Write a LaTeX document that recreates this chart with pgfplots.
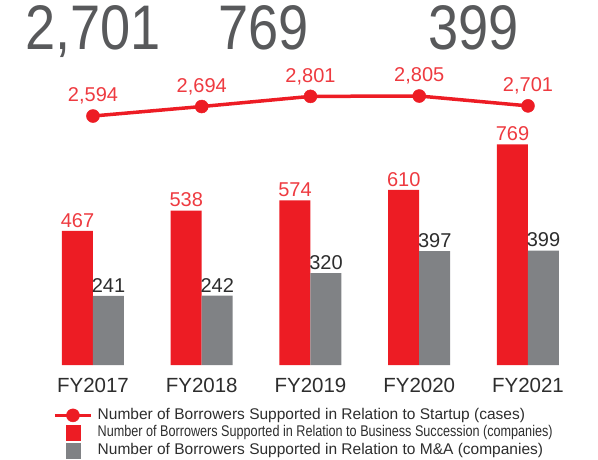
\documentclass[border=0pt]{standalone}
\usepackage{pgfplots}
\pgfplotsset{compat=1.18}
\usepackage{fontspec}
\setmainfont{Liberation Sans}
\usepackage{graphicx}
\definecolor{cred}{RGB}{237,28,36}
\definecolor{clab}{RGB}{238,58,64}
\definecolor{cgray}{RGB}{128,130,133}
\definecolor{ctext}{RGB}{45,45,45}
\definecolor{cbig}{RGB}{88,89,91}
\pgfplotsset{mylineleg/.style={legend image code/.code={\draw[##1, mark repeat=2, mark phase=2] plot coordinates {(0pt,0pt)(18pt,0pt)(36pt,0pt)};}}}
\begin{document}
\begin{tikzpicture}
\useasboundingbox (0,0) rectangle (598pt,459pt);
\pgfplotsset{common/.style={scale only axis, width=543.75pt, height=365pt,
  at={(38.6pt,94pt)}, anchor=south west, xmin=-0.5, xmax=4.5, clip=false}}
\begin{axis}[common, ymin=0, ymax=1272, ybar=0pt, bar width=31pt,
  axis y line=none, axis x line=bottom, axis line style={draw=none},
  xtick={0,1,2,3,4}, xticklabels={FY2017,FY2018,FY2019,FY2020,FY2021},
  major tick length=0pt,
  xticklabel style={font=\fontsize{20.5}{24}\selectfont, text=ctext, yshift=-10pt},
  nodes near coords,
  every node near coord/.append style={font=\fontsize{20}{22}\selectfont},
  /pgf/number format/assume math mode=true]
\addplot[fill=cred, draw=none, nodes near coords style={text=clab}]
  coordinates {(0,467)(1,538)(2,574)(3,610)(4,769)};
\addplot[fill=cgray, draw=none, nodes near coords style={text=ctext}]
  coordinates {(0,241)(1,242)(2,320)(3,397)(4,399)};
\end{axis}
\begin{axis}[common, ymin=-33, ymax=3818, hide axis,
  legend style={at={(axis description cs:0.021,-0.108)}, anchor=north west,
    draw=none, fill=none, text=ctext, font=\fontsize{15.5}{17}\selectfont,
    nodes={text height=10.5pt, text depth=3pt, inner sep=2pt},
    row sep=0pt,
    /tikz/every odd column/.append style={column sep=3pt}},
  legend cell align=left]
\addplot[cred, line width=3.5pt, mark=*, mark size=6.5pt,
  mark options={solid, line width=0.5pt},
  nodes near coords,
  every node near coord/.append style={text=clab, font=\fontsize{20}{22}\selectfont, yshift=8pt},
  /pgf/number format/assume math mode=true,
  mylineleg]
  coordinates {(0,2594)(1,2694)(2,2801)(3,2805)(4,2701)};
\addlegendentry{Number of Borrowers Supported in Relation to Startup (cases)}
\addlegendimage{legend image code/.code={\fill[cred] (11pt,-7.5pt) rectangle (25pt,7.5pt);}}
\addlegendentry{\scalebox{0.815}[1]{Number of Borrowers Supported in Relation to Business Succession (companies)}}
\addlegendimage{legend image code/.code={\fill[cgray] (11pt,-7.5pt) rectangle (25pt,7.5pt);}}
\addlegendentry{Number of Borrowers Supported in Relation to M\&A (companies)}
\end{axis}
\node[anchor=base west, inner sep=0pt, text=cbig, font=\fontsize{63}{63}\selectfont] at (25pt,409pt) {\scalebox{0.86}[1]{2,701}};
\node[anchor=base west, inner sep=0pt, text=cbig, font=\fontsize{63}{63}\selectfont] at (218pt,409pt) {\scalebox{0.86}[1]{769}};
\node[anchor=base west, inner sep=0pt, text=cbig, font=\fontsize{63}{63}\selectfont] at (428pt,409pt) {\scalebox{0.86}[1]{399}};
\end{tikzpicture}
\end{document}
